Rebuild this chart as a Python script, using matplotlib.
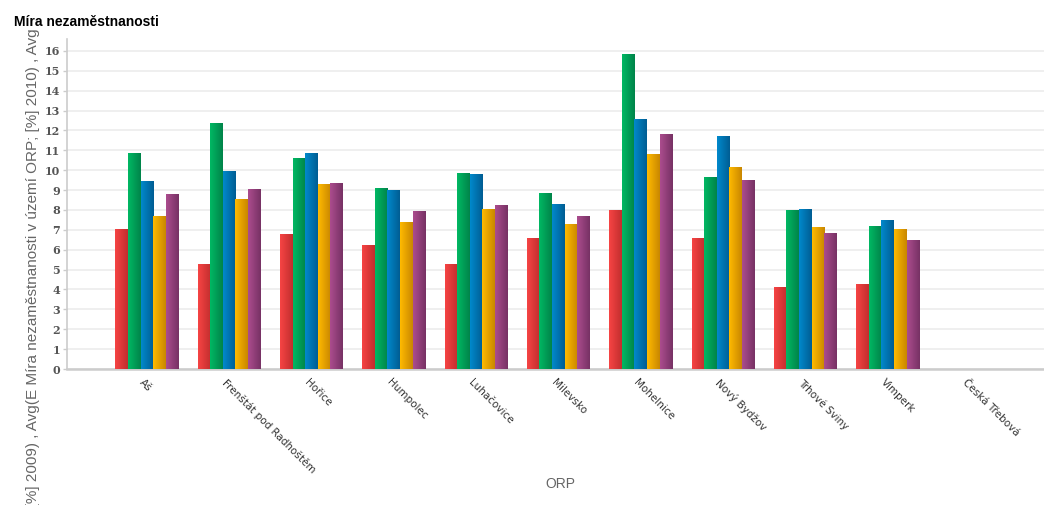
import numpy as np
import matplotlib
matplotlib.use("Agg")
import matplotlib.pyplot as plt
import matplotlib.transforms as mtransforms
from matplotlib.colors import LinearSegmentedColormap

categories = ["Aš", "Frenštát pod Radhoštěm", "Hořice", "Humpolec", "Luhačovice",
              "Milevsko", "Mohelnice", "Nový Bydžov", "Trhové Sviny", "Vimperk",
              "Česká Třebová"]
years = ["2008", "2009", "2010", "2011", "2012"]
v2008 = [7.03, 5.29, 6.78, 6.26, 5.29, 6.61, 8.00, 6.61, 4.13, 4.30, np.nan]
v2009 = [10.85, 12.39, 10.60, 9.12, 9.84, 8.83, 15.83, 9.64, 7.99, 7.20, np.nan]
v2010 = [9.47, 9.95, 10.85, 9.00, 9.79, 8.28, 12.59, 11.70, 8.06, 7.52, np.nan]
v2011 = [7.72, 8.53, 9.32, 7.40, 8.04, 7.27, 10.80, 10.18, 7.15, 7.02, np.nan]
v2012 = [8.80, 9.05, 9.37, 7.94, 8.26, 7.72, 11.80, 9.52, 6.83, 6.51, np.nan]
series = [v2008, v2009, v2010, v2011, v2012]
grad_colors = [("#f64444", "#c22e2e"), ("#00b863", "#00844a"), ("#0089cc", "#005d93"),
               ("#ffba00", "#c98700"), ("#ab4c8e", "#773264")]

fig = plt.figure(figsize=(10.44, 5.05), dpi=100)
ax = fig.add_axes([67/1044, (505-369)/505, 977/1044, 330/505])

x = np.arange(len(categories))
bw = 0.153
for i, (vals, (c1, c2)) in enumerate(zip(series, grad_colors)):
    offs = (i - 2) * bw
    bars = ax.bar(x + offs, np.nan_to_num(vals), bw, color=c1, linewidth=0, zorder=2)
    cmap = LinearSegmentedColormap.from_list("g%d" % i, [c1, c2])
    grad = np.linspace(0, 1, 64).reshape(1, -1)
    for b, v in zip(bars, vals):
        if np.isnan(v):
            b.set_visible(False)
            continue
        x0, w, h = b.get_x(), b.get_width(), b.get_height()
        im = ax.imshow(grad, cmap=cmap, aspect="auto", extent=[x0, x0 + w, 0, h],
                       zorder=3, interpolation="bilinear")
        im.set_clip_path(b)

ax.set_xlim(-0.97, 10.9)
ax.set_ylim(0, 16.6)
ax.set_yticks(range(0, 17))
ax.set_yticklabels([str(t) for t in range(0, 17)], family="DejaVu Serif",
                   fontweight="bold", fontsize=8, color="#555555")
ax.tick_params(axis="y", length=3, width=1, color="#cccccc", pad=2)
ax.yaxis.grid(True, color="#ececec", linewidth=1.2, zorder=0)
ax.set_axisbelow(True)

ax.set_xticks(x)
ax.set_xticklabels(categories, rotation=-45, ha="left", va="top",
                   rotation_mode="anchor", fontsize=7.5, color="#333333",
                   family="DejaVu Sans")
ax.tick_params(axis="x", length=0, pad=6)
for lbl in ax.get_xticklabels():
    lbl.set_transform(lbl.get_transform() + mtransforms.ScaledTranslation(-2/100, 0, fig.dpi_scale_trans))

for s in ["top", "right"]:
    ax.spines[s].set_visible(False)
ax.spines["left"].set_color("#cccccc")
ax.spines["left"].set_linewidth(1.2)
ax.spines["bottom"].set_color("#cccccc")
ax.spines["bottom"].set_linewidth(1.8)

ylabel = " , ".join("Avg(E Míra nezaměstnanosti v území ORP; [%%] %s)" % y for y in years)
yl = ax.set_ylabel(ylabel, family="Liberation Sans", fontsize=11, color="#666666")
ax.yaxis.set_label_coords(-0.0275, 0.365)
clipbox = mtransforms.TransformedBbox(mtransforms.Bbox([[0, 0], [1, 1 - 30/505]]), fig.transFigure)
yl.set_clip_box(clipbox)
yl.set_clip_on(True)
ax.set_xlabel("ORP", family="Liberation Sans", fontsize=10, color="#666666")
ax.xaxis.set_label_coords(0.505, -0.327)

fig.text(14/1044, 1 - 22/505, "Míra nezaměstnanosti", family="Liberation Sans",
         fontweight="bold", fontsize=10, color="#000000", va="center", ha="left")

fig.savefig("out.png", dpi=100)
